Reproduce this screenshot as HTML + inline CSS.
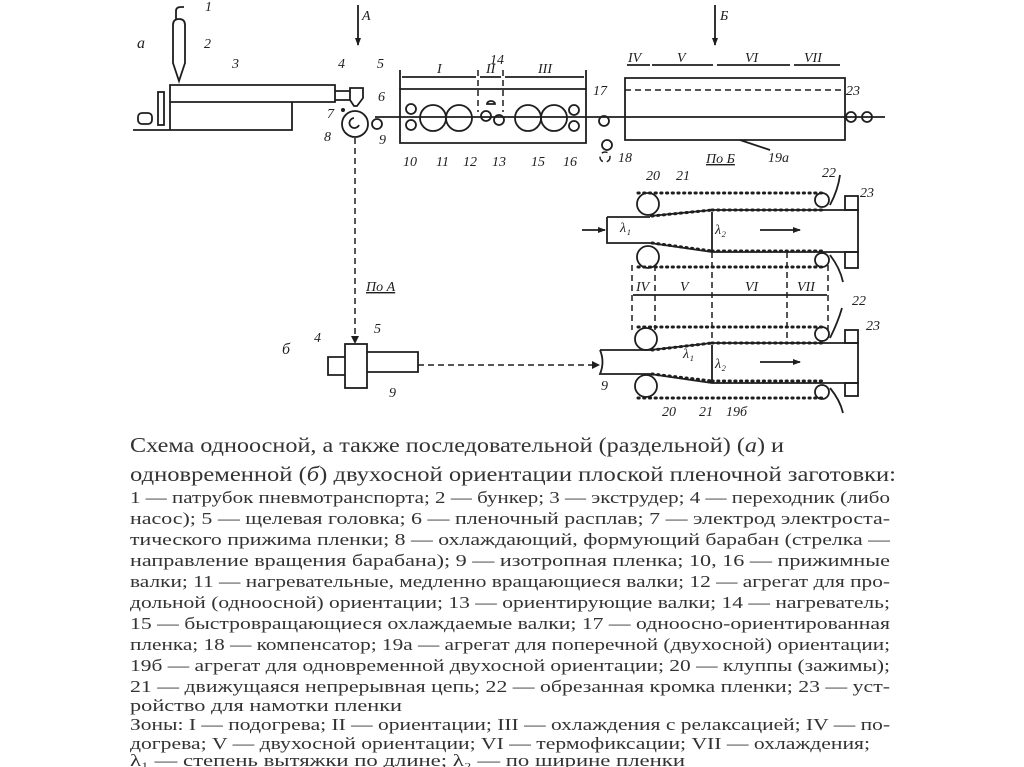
<!DOCTYPE html>
<html><head><meta charset="utf-8"><style>
html,body{margin:0;padding:0;background:#fff;}
svg{display:block}
.d{fill:none;stroke:#1e1e1e;stroke-width:1.8}
.ds{fill:none;stroke:#1e1e1e;stroke-width:1.5;stroke-dasharray:6 4}
.ch{fill:none;stroke:#1e1e1e;stroke-width:3;stroke-dasharray:1.2 4.5;stroke-linecap:round}
.l{font-family:"Liberation Serif",serif;font-style:italic;font-size:14px;fill:#1e1e1e}
.t{font-family:"Liberation Serif","Noto Serif CJK SC",serif;fill:#333}
</style></head><body>
<svg width="1024" height="767" viewBox="0 0 1024 767">
<defs><marker id="a" markerWidth="8" markerHeight="8" refX="7" refY="4" orient="auto" markerUnits="userSpaceOnUse"><path d="M0,1 L8,4 L0,7 Z" fill="#1e1e1e"/></marker></defs>
<!-- part a -->
<text class="l" x="137" y="48" style="font-size:16px">a</text>
<path class="d" d="M173,25 q0,-6 6,-6 q6,0 6,6 v38 l-6,18 l-6,-18 z M176,19 v-8 q0,-4 5,-4 h3"/>
<path class="d" d="M170,85 h165 v17 h-165 z M170,102 v28 h122 v-28 M133,130 h37"/>
<rect class="d" x="158" y="92" width="6" height="33"/>
<rect class="d" x="138" y="113" width="14" height="11" rx="4"/>
<path class="d" d="M335,91 h15 v9 h-15 M350,88 h13 v10 l-6,8 h-3 l-4,-6 z"/>
<circle class="d" cx="355" cy="124" r="13"/>
<path class="d" d="M354,118 a5,5 0 1 0 5,7"/>
<circle cx="343" cy="110" r="2" fill="#1e1e1e"/>
<line class="d" x1="358" y1="5" x2="358" y2="45" marker-end="url(#a)"/>
<text class="l" x="362" y="20">A</text>
<text class="l" x="205" y="11">1</text><text class="l" x="204" y="48">2</text><text class="l" x="232" y="68">3</text>
<text class="l" x="338" y="68">4</text><text class="l" x="377" y="68">5</text><text class="l" x="378" y="101">6</text>
<text class="l" x="327" y="118">7</text><text class="l" x="324" y="141">8</text><text class="l" x="379" y="144">9</text>
<!-- unit 12 -->
<path class="d" d="M400,89 h186 v54 h-186 z"/>
<path class="d" d="M400,70 v19 M586,70 v19"/>
<line class="d" x1="402" y1="77" x2="476" y2="77"/><line class="ds" x1="478" y1="70" x2="478" y2="112"/><line class="ds" x1="503" y1="70" x2="503" y2="112"/>
<line class="d" x1="480" y1="77" x2="501" y2="77"/><line class="d" x1="505" y1="77" x2="584" y2="77"/>
<text class="l" x="437" y="73">I</text><text class="l" x="486" y="73">II</text><text class="l" x="538" y="73">III</text><text class="l" x="490" y="64">14</text>
<path class="d" d="M375,117 H600 L620,117 L885,117"/>
<circle class="d" cx="377" cy="124" r="5"/>
<circle class="d" cx="411" cy="109" r="5"/><circle class="d" cx="411" cy="125" r="5"/>
<circle class="d" cx="433" cy="118" r="13"/><circle class="d" cx="459" cy="118" r="13"/>
<circle class="d" cx="486" cy="116" r="5"/><circle class="d" cx="499" cy="120" r="5"/>
<path class="d" d="M487,104 a4,3 0 0 1 8,0 z"/>
<circle class="d" cx="528" cy="118" r="13"/><circle class="d" cx="554" cy="118" r="13"/>
<circle class="d" cx="574" cy="110" r="5"/><circle class="d" cx="574" cy="126" r="5"/>
<text class="l" x="403" y="166">10</text><text class="l" x="436" y="166">11</text><text class="l" x="463" y="166">12</text>
<text class="l" x="492" y="166">13</text><text class="l" x="531" y="166">15</text><text class="l" x="563" y="166">16</text>
<text class="l" x="593" y="95">17</text><text class="l" x="618" y="162">18</text>
<circle class="d" cx="604" cy="121" r="5"/><circle class="d" cx="607" cy="145" r="5"/><circle class="ds" cx="605" cy="157" r="5"/>
<!-- 19a top box -->
<path class="d" d="M625,78 h220 v62 h-220 z"/>
<path class="ds" d="M625,90 H845"/>
<line class="d" x1="715" y1="5" x2="715" y2="45" marker-end="url(#a)"/><text class="l" x="720" y="20">Б</text>
<line class="d" x1="627" y1="65" x2="650" y2="65"/><line class="d" x1="652" y1="65" x2="713" y2="65"/><line class="d" x1="717" y1="65" x2="790" y2="65"/><line class="d" x1="794" y1="65" x2="840" y2="65"/>
<text class="l" x="628" y="62">IV</text><text class="l" x="677" y="62">V</text><text class="l" x="745" y="62">VI</text><text class="l" x="804" y="62">VII</text>
<circle class="d" cx="851" cy="117" r="5"/><circle class="d" cx="867" cy="117" r="5"/><text class="l" x="846" y="95">23</text>
<text class="l" x="768" y="162">19a</text><path class="d" d="M770,150 L740,140"/>
<text class="l" x="706" y="163" style="text-decoration:underline">По Б</text>
<!-- tenter 19a -->
<path class="d" d="M607,217 h43 M607,217 v26 h43 M650,216 L712,210 H858 V252 H712 L650,243"/>
<line class="ch" x1="638" y1="193" x2="822" y2="193"/><line class="ch" x1="652" y1="216" x2="712" y2="210"/><line class="ch" x1="712" y1="210" x2="822" y2="210"/>
<line class="ch" x1="652" y1="243" x2="712" y2="251"/><line class="ch" x1="712" y1="251" x2="822" y2="251"/><line class="ch" x1="638" y1="267" x2="822" y2="267"/>
<circle class="d" cx="648" cy="204" r="11"/><circle class="d" cx="648" cy="257" r="11"/>
<circle class="d" cx="822" cy="200" r="7"/><circle class="d" cx="822" cy="260" r="7"/>
<rect class="d" x="845" y="196" width="13" height="14"/><rect class="d" x="845" y="252" width="13" height="16"/>
<line class="d" x1="712" y1="212" x2="712" y2="250"/><text class="l" x="715" y="234">λ₂</text><text class="l" x="620" y="232">λ₁</text>
<line class="d" x1="582" y1="230" x2="605" y2="230" marker-end="url(#a)"/>
<line class="d" x1="760" y1="230" x2="800" y2="230" marker-end="url(#a)"/>
<path class="d" d="M830,205 Q838,190 840,175 M830,255 Q840,268 843,282"/>
<text class="l" x="822" y="177">22</text><text class="l" x="860" y="197">23</text><text class="l" x="646" y="180">20</text><text class="l" x="676" y="180">21</text>
<!-- zones -->
<line class="ds" x1="632" y1="265" x2="632" y2="330"/><line class="ds" x1="655" y1="265" x2="655" y2="330"/><line class="ds" x1="712" y1="252" x2="712" y2="343"/><line class="ds" x1="787" y1="252" x2="787" y2="343"/><line class="ds" x1="828" y1="265" x2="828" y2="330"/>
<line class="d" x1="633" y1="295" x2="827" y2="295"/>
<text class="l" x="636" y="291">IV</text><text class="l" x="680" y="291">V</text><text class="l" x="745" y="291">VI</text><text class="l" x="797" y="291">VII</text>
<!-- tenter 19b -->
<path class="d" d="M600,350 H650 L712,343 H858 V383 H712 L650,374 H600 Q605,362 600,350"/>
<line class="ch" x1="638" y1="327" x2="822" y2="327"/><line class="ch" x1="652" y1="350" x2="712" y2="343"/><line class="ch" x1="712" y1="343" x2="822" y2="343"/>
<line class="ch" x1="652" y1="374" x2="712" y2="381"/><line class="ch" x1="712" y1="381" x2="822" y2="381"/><line class="ch" x1="638" y1="398" x2="822" y2="398"/>
<circle class="d" cx="646" cy="339" r="11"/><circle class="d" cx="646" cy="386" r="11"/>
<circle class="d" cx="822" cy="334" r="7"/><circle class="d" cx="822" cy="392" r="7"/>
<rect class="d" x="845" y="330" width="13" height="13"/><rect class="d" x="845" y="383" width="13" height="13"/>
<line class="d" x1="712" y1="345" x2="712" y2="380"/><text class="l" x="715" y="368">λ₂</text><text class="l" x="683" y="358">λ₁</text>
<line class="d" x1="760" y1="362" x2="800" y2="362" marker-end="url(#a)"/>
<path class="d" d="M830,338 Q838,322 842,308 M830,388 Q840,400 843,413"/>
<text class="l" x="852" y="305">22</text><text class="l" x="866" y="330">23</text><text class="l" x="662" y="416">20</text><text class="l" x="699" y="416">21</text><text class="l" x="726" y="416">19б</text>
<text class="l" x="601" y="390">9</text>
<!-- part b -->
<line class="ds" x1="355" y1="138" x2="355" y2="338"/><path d="M351,336 L355,344 L359,336 Z" fill="#1e1e1e"/>
<text class="l" x="366" y="291" style="text-decoration:underline">По А</text>
<text class="l" x="282" y="354" style="font-size:16px">б</text>
<rect class="d" x="345" y="344" width="22" height="44"/>
<path class="d" d="M345,357 h-17 v18 h17 M367,352 h51 v20 h-51"/>
<line class="ds" x1="418" y1="365" x2="596" y2="365"/><path d="M592,361 L600,365 L592,369 Z" fill="#1e1e1e"/>
<text class="l" x="314" y="342">4</text><text class="l" x="374" y="333">5</text><text class="l" x="389" y="397">9</text>
<!-- caption -->
<text class="t" x="130" y="452" font-size="21" textLength="654" lengthAdjust="spacingAndGlyphs">Схема одноосной, а также последовательной (раздельной) (<tspan font-style="italic">а</tspan>) и</text>
<text class="t" x="130" y="481" font-size="21" textLength="766" lengthAdjust="spacingAndGlyphs">одновременной (<tspan font-style="italic">б</tspan>) двухосной ориентации плоской пленочной заготовки:</text>
<g class="t" font-size="17">
<text x="130" y="503" textLength="760" lengthAdjust="spacingAndGlyphs">1 — патрубок пневмотранспорта; 2 — бункер; 3 — экструдер; 4 — переходник (либо</text>
<text x="130" y="524" textLength="760" lengthAdjust="spacingAndGlyphs">насос); 5 — щелевая головка; 6 — пленочный расплав; 7 — электрод электроста-</text>
<text x="130" y="545" textLength="760" lengthAdjust="spacingAndGlyphs">тического прижима пленки; 8 — охлаждающий, формующий барабан (стрелка —</text>
<text x="130" y="566" textLength="760" lengthAdjust="spacingAndGlyphs">направление вращения барабана); 9 — изотропная пленка; 10, 16 — прижимные</text>
<text x="130" y="587" textLength="760" lengthAdjust="spacingAndGlyphs">валки; 11 — нагревательные, медленно вращающиеся валки; 12 — агрегат для про-</text>
<text x="130" y="608" textLength="760" lengthAdjust="spacingAndGlyphs">дольной (одноосной) ориентации; 13 — ориентирующие валки; 14 — нагреватель;</text>
<text x="130" y="629" textLength="760" lengthAdjust="spacingAndGlyphs">15 — быстровращающиеся охлаждаемые валки; 17 — одноосно-ориентированная</text>
<text x="130" y="650" textLength="760" lengthAdjust="spacingAndGlyphs">пленка; 18 — компенсатор; 19а — агрегат для поперечной (двухосной) ориентации;</text>
<text x="130" y="671" textLength="760" lengthAdjust="spacingAndGlyphs">19б — агрегат для одновременной двухосной ориентации; 20 — клуппы (зажимы);</text>
<text x="130" y="692" textLength="760" lengthAdjust="spacingAndGlyphs">21 — движущаяся непрерывная цепь; 22 — обрезанная кромка пленки; 23 — уст-</text>
<text x="130" y="711" textLength="272" lengthAdjust="spacingAndGlyphs">ройство для намотки пленки</text>
<text x="130" y="730" textLength="760" lengthAdjust="spacingAndGlyphs">Зоны: I — подогрева; II — ориентации; III — охлаждения с релаксацией; IV — по-</text>
<text x="130" y="749" textLength="740" lengthAdjust="spacingAndGlyphs">догрева; V — двухосной ориентации; VI — термофиксации; VII — охлаждения;</text>
<text x="130" y="766" textLength="555" lengthAdjust="spacingAndGlyphs">λ₁ — степень вытяжки по длине; λ₂ — по ширине пленки</text>
</g>
</svg>
</body></html>
